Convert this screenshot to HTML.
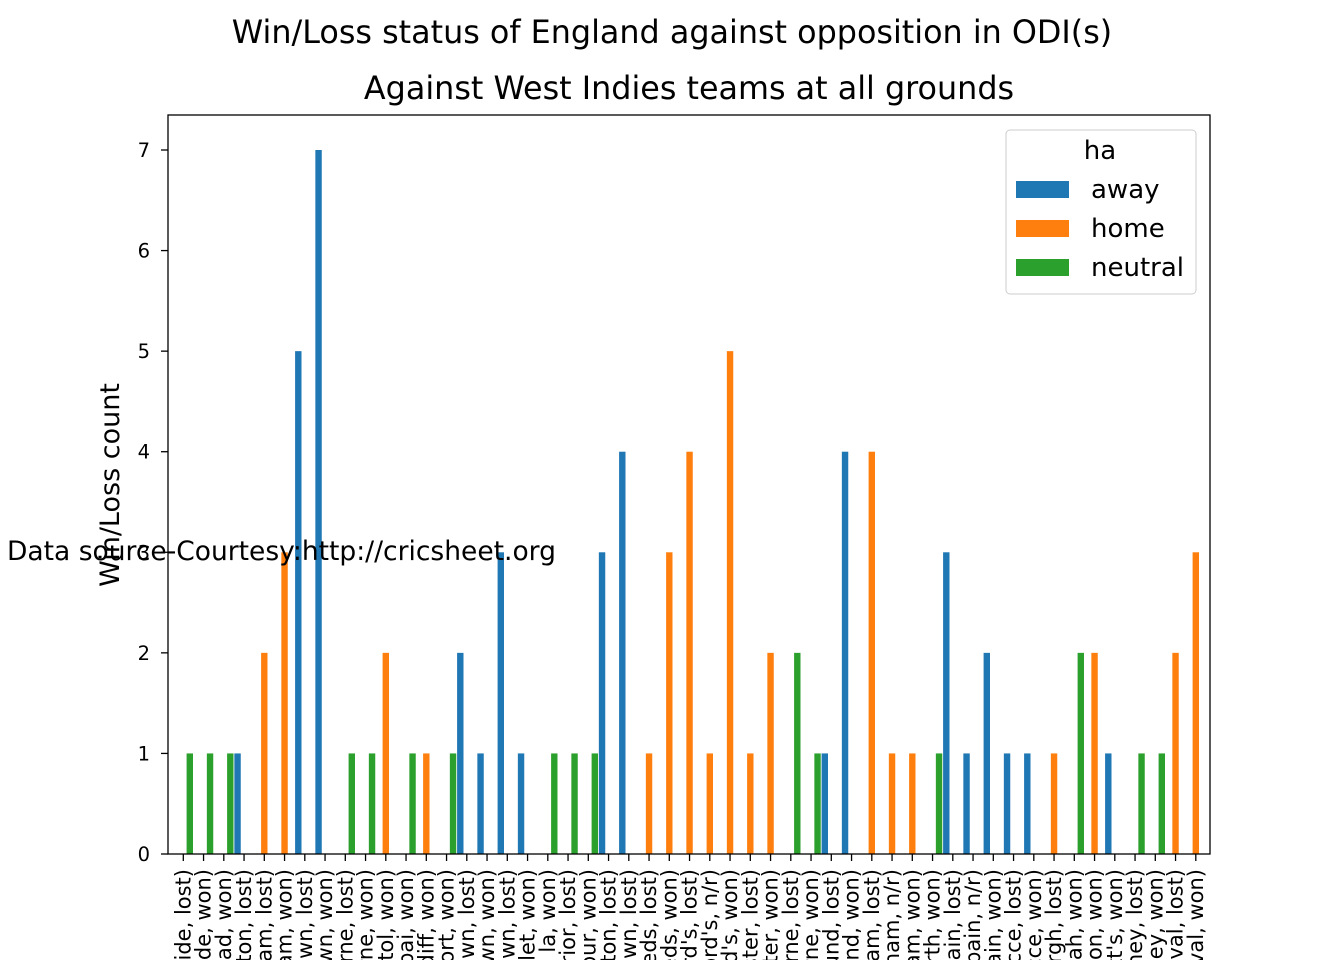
<!DOCTYPE html>
<html><head><meta charset="utf-8"><style>
html,body{margin:0;padding:0;background:#fff;overflow:hidden;}
svg{display:block;font-family:"DejaVu Sans","Liberation Sans",sans-serif;}
</style></head><body>
<svg id="chart" width="1344" height="960" viewBox="0 0 1344 960">
<text x="672" y="43" font-size="31.8" text-anchor="middle">Win/Loss status of England against opposition in ODI(s)</text>
<text x="689" y="99" font-size="31.8" text-anchor="middle">Against West Indies teams at all grounds</text>
<g id="bars"></g>
<g id="xticks"></g>
<g id="yticks"></g>
<rect x="168" y="115" width="1042" height="739" fill="none" stroke="#000" stroke-width="1.3"/>
<text transform="translate(119,485) rotate(-90)" font-size="27" text-anchor="middle">Win/Loss count</text>
<text x="7" y="560" font-size="26.5">Data source-Courtesy:http://cricsheet.org</text>
<g>
<rect x="1006" y="130" width="190" height="164" rx="4" fill="#fff" fill-opacity="0.8" stroke="#ccc"/>
<text x="1100" y="159" font-size="26" text-anchor="middle">ha</text>
<rect x="1016" y="181" width="53" height="17" fill="#1f77b4"/>
<text x="1091" y="198" font-size="26">away</text>
<rect x="1016" y="220" width="53" height="17" fill="#ff7f0e"/>
<text x="1091" y="237" font-size="26">home</text>
<rect x="1016" y="259" width="53" height="17" fill="#2ca02c"/>
<text x="1091" y="276" font-size="26">neutral</text>
</g>
</svg>
<script>
const categories = ["(Adelaide Oval, Adelaide, lost)","(Adelaide Oval, Adelaide, won)","(Rajiv Gandhi, Hyderabad, won)","(Sabina Park, Kingston, lost)","(Edgbaston, Birmingham, lost)","(Edgbaston, Birmingham, won)","(Kensington Oval, Bridgetown, lost)","(Kensington Oval, Bridgetown, won)","(MCG, Melbourne, lost)","(MCG, Melbourne, won)","(County Ground, Bristol, won)","(Wankhede, Mumbai, won)","(Sophia Gardens, Cardiff, won)","(Harare Sports Club, Newport, won)","(Bourda, Georgetown, lost)","(Providence, Georgetown, won)","(Arnos Vale, Kingstown, lost)","(Arnos Vale, Gros Islet, won)","(Darren Sammy, Gros Islet, la, won)","(Antigua North Sound Superior, lost)","(Sharjah Stadium, Kuala Lumpur, won)","(Sabina Park, Kingston, lost)","(Kensington Oval, Bridgetown, lost)","(Headingley, Leeds, lost)","(Headingley, Leeds, won)","(Lord's, Lord's, lost)","(Lord's, Lord's, n/r)","(Lord's, Lord's, won)","(Old Trafford, Manchester, lost)","(Old Trafford, Manchester, won)","(SCG, Melbourne, lost)","(SCG, Melbourne, won)","(Vivian Richards, North Sound, lost)","(Vivian Richards, North Sound, won)","(Trent Bridge, Nottingham, lost)","(Trent Bridge, Nottingham, n/r)","(Trent Bridge, Nottingham, won)","(WACA, Perth, won)","(Queen's Park Oval, Port of Spain, lost)","(Queen's Park Oval, Port of Spain, n/r)","(Queen's Park Oval, Port of Spain, won)","(Beausejour, St Lucce, lost)","(Beausejour, St Lucce, won)","(Grange, Edinburgh, lost)","(Sharjah CA Stadium, Sharjah, won)","(Rose Bowl, Southampton, won)","(Warner Park, St Kitt's, won)","(SCG, Sydney, lost)","(SCG, Sydney, won)","(The Oval, Kennington Oval, lost)","(The Oval, Kennington Oval, won)"];
const awayValues =    [0,0,0,1,0,0,5,7,0,0,0,0,0,0,2,1,3,1,0,0,0,3,4,0,0,0,0,0,0,0,0,0,1,4,0,0,0,0,3,1,2,1,1,0,0,0,1,0,0,0,0];
const homeValues =    [0,0,0,0,2,3,0,0,0,0,2,0,1,0,0,0,0,0,0,0,0,0,0,1,3,4,1,5,1,2,0,0,0,0,4,1,1,0,0,0,0,0,0,1,0,2,0,0,0,2,3];
const neutralValues = [1,1,1,0,0,0,0,0,1,1,0,1,0,1,0,0,0,0,1,1,1,0,0,0,0,0,0,0,0,0,2,1,0,0,0,0,0,1,0,0,0,0,0,0,2,0,0,1,1,0,0];
const yTicks = [0,1,2,3,4,5,6,7];

const NS="http://www.w3.org/2000/svg";
const x0=183.3, step=20.25, y0=854, yUnit=(854-150)/7, barW=6.4, off=6.5;
function xScale(i){return x0+i*step;}
function yScale(v){return y0-v*yUnit;}
const series=[{vals:awayValues,color:"#1f77b4",name:"away",d:-off},{vals:homeValues,color:"#ff7f0e",name:"home",d:0},{vals:neutralValues,color:"#2ca02c",name:"neutral",d:off}];
const gb=document.getElementById("bars");
series.forEach(s=>{
  s.vals.forEach((v,i)=>{
    if(!v) return;
    const r=document.createElementNS(NS,"rect");
    const cx=xScale(i)+s.d;
    r.setAttribute("x",cx-barW/2);
    r.setAttribute("y",yScale(v));
    r.setAttribute("width",barW);
    r.setAttribute("height",yScale(0)-yScale(v));
    r.setAttribute("fill",s.color);
    
    
    gb.appendChild(r);
  });
});
const gx=document.getElementById("xticks");
categories.forEach((c,i)=>{
  const x=xScale(i);
  const l=document.createElementNS(NS,"line");
  l.setAttribute("x1",x);l.setAttribute("x2",x);l.setAttribute("y1",854);l.setAttribute("y2",861);
  l.setAttribute("stroke","#000");l.setAttribute("stroke-width","1.3");
  
  
  gx.appendChild(l);
  const t=document.createElementNS(NS,"text");
  t.setAttribute("transform","translate("+(x+7)+",869) rotate(-90)");
  t.setAttribute("text-anchor","end");
  t.setAttribute("font-size","21");
  t.textContent=c;
  
  
  gx.appendChild(t);
});
const gy=document.getElementById("yticks");
yTicks.forEach(v=>{
  const y=yScale(v);
  const l=document.createElementNS(NS,"line");
  l.setAttribute("x1",161);l.setAttribute("x2",168);l.setAttribute("y1",y);l.setAttribute("y2",y);
  l.setAttribute("stroke","#000");l.setAttribute("stroke-width","1.3");
  
  
  gy.appendChild(l);
  const t=document.createElementNS(NS,"text");
  t.setAttribute("x",150);t.setAttribute("y",y+7);
  t.setAttribute("text-anchor","end");t.setAttribute("font-size","19.5");
  t.textContent=v;
  
  
  gy.appendChild(t);
});
</script>
</body></html>
